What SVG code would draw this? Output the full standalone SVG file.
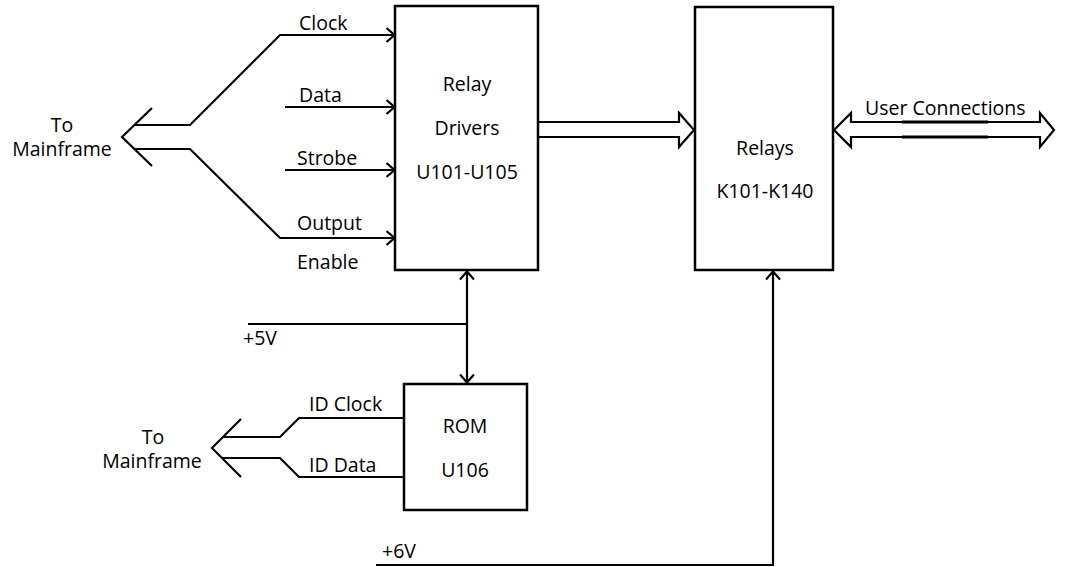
<svg xmlns="http://www.w3.org/2000/svg" width="1074" height="567" viewBox="0 0 1074 567">
  <style>
    text { font-family: "Open Sans", "Liberation Sans", sans-serif; font-size: 19.5px; fill: #000; }
    .c { text-anchor: middle; }
    .box { fill: #fff; stroke: #000; stroke-width: 2.5; }
    .ln { fill: none; stroke: #000; stroke-width: 2.2; stroke-linejoin: miter; }
    .bus { fill: #fff; stroke: #000; stroke-width: 2.2; stroke-linejoin: miter; }
  </style>
  <defs>
    <marker id="chev" viewBox="0 0 10 16" refX="9.5" refY="8" markerWidth="10" markerHeight="16" markerUnits="userSpaceOnUse" orient="auto-start-reverse">
      <path d="M1,1 L9,8 L1,15" fill="none" stroke="#000" stroke-width="2.2"/>
    </marker>
  </defs>

  <g id="connectors">
    <!-- To Mainframe bus (top) -->
    <polyline class="ln" points="152,108 122,137 152,166"/>
    <polyline class="ln" points="134,125 190,125 280,35 395,35" marker-end="url(#chev)"/>
    <polyline class="ln" points="134,149 190,149 280,238 395,238" marker-end="url(#chev)"/>
    <line class="ln" x1="285" y1="107" x2="395" y2="107" marker-end="url(#chev)"/>
    <line class="ln" x1="285" y1="170" x2="395" y2="170" marker-end="url(#chev)"/>
    <!-- Drivers to Relays bus -->
    <path class="bus" d="M538,122 L679,122 L679,113 L694,130 L679,147 L679,137 L538,137"/>
    <!-- User connections -->
    <path class="bus" d="M851,122 L1040,122 L1040,113 L1054,130 L1040,147 L1040,137 L851,137 L851,147 L834,130 L851,113 Z"/>
    <line x1="902" y1="122" x2="988" y2="122" stroke="#000" stroke-width="3"/>
    <line x1="902" y1="137" x2="988" y2="137" stroke="#000" stroke-width="3"/>
    <!-- +5V supply -->
    <line class="ln" x1="467" y1="271" x2="467" y2="383" marker-start="url(#chev)" marker-end="url(#chev)"/>
    <line class="ln" x1="248" y1="324" x2="467" y2="324"/>
    <!-- ROM bus -->
    <polyline class="ln" points="241,419 212,448 241,477"/>
    <polyline class="ln" points="404,418 299,418 280,437 223,437"/>
    <polyline class="ln" points="404,477 299,477 280,458 223,458"/>
    <!-- +6V supply -->
    <polyline class="ln" points="376,565 773,565 773,271" marker-end="url(#chev)"/>
  </g>

  <g id="relay-drivers">
    <rect class="box" x="395" y="6" width="143" height="264"/>
    <text class="c" x="467" y="91">Relay</text>
    <text class="c" x="467" y="135">Drivers</text>
    <text class="c" x="467" y="179">U101-U105</text>
  </g>

  <g id="relays">
    <rect class="box" x="695" y="7" width="138" height="263"/>
    <text class="c" x="765" y="155">Relays</text>
    <text class="c" x="765" y="198">K101-K140</text>
  </g>

  <g id="rom">
    <rect class="box" x="404" y="384" width="123" height="126"/>
    <text class="c" x="465" y="433">ROM</text>
    <text class="c" x="465" y="477">U106</text>
  </g>

  <g id="labels">
    <text x="299" y="30">Clock</text>
    <text x="299" y="102">Data</text>
    <text x="297" y="165">Strobe</text>
    <text x="297" y="230">Output</text>
    <text x="297" y="269">Enable</text>
    <text class="c" x="62" y="132">To</text>
    <text class="c" x="62" y="156">Mainframe</text>
    <text x="865" y="115">User Connections</text>
    <text x="243" y="345">+5V</text>
    <text x="309" y="411">ID Clock</text>
    <text x="309" y="472">ID Data</text>
    <text class="c" x="153" y="444">To</text>
    <text class="c" x="152" y="468">Mainframe</text>
    <text x="382" y="558">+6V</text>
  </g>
</svg>
